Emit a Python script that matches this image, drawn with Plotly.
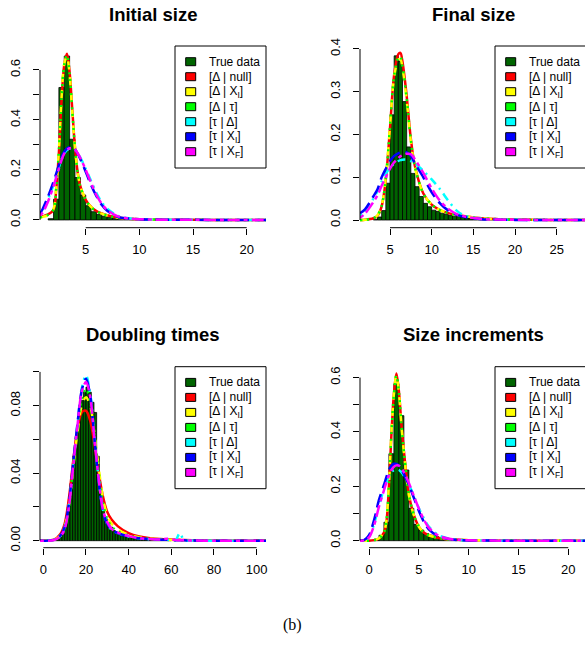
import numpy as np
import plotly.graph_objects as go

W, H = 585, 660

# ---------------- data ----------------
titles = ["Initial size", "Final size", "Doubling times", "Size increments"]
legend_labels = ["True data", "[Δ | null]", "[Δ | X<sub>I</sub>]", "[Δ | τ]",
                 "[τ | Δ]", "[τ | X<sub>I</sub>]", "[τ | X<sub>F</sub>]"]
legend_colors = ["#006400", "#FF0000", "#FFFF00", "#00FF00", "#00FFFF", "#0000FF", "#FF00FF"]
curve_names = ["red", "yellow", "green", "cyan", "blue", "magenta"]

# Panel 1: Initial size
p1_bin_start, p1_bin_w = 1.5, 0.5
p1_hist = [0.005, 0.083, 0.53, 0.656, 0.323, 0.17, 0.10, 0.057, 0.033, 0.022, 0.015,
           0.010, 0.007, 0.005, 0.004, 0.003, 0.002, 0.002, 0.0015, 0.001, 0.001, 0.0008,
           0.0006, 0.0005, 0.0004, 0.0003, 0.0003, 0.0002, 0.0002, 0.0002, 0.0001, 0.0001,
           0.0001, 0.0001, 0.0001, 0.0001, 0.0001, 0.0001, 0.0001]
p1_x = [0.74, 1.0, 1.5, 2.0, 2.25, 2.5, 2.75, 3.0, 3.25, 3.5, 3.75, 4.0, 4.25, 4.5, 5.0,
        5.5, 6.0, 6.5, 7.0, 8.0, 9.0, 10.0, 12.0, 15.0, 18.0, 21.8]
p1_red = [0.012, 0.015, 0.022, 0.04, 0.12, 0.27, 0.48, 0.62, 0.665, 0.59, 0.44, 0.29, 0.19,
          0.135, 0.08, 0.052, 0.036, 0.026, 0.019, 0.010, 0.005, 0.003, 0.001, 0.0005, 0.0002, 0.0001]
p1_yellow = [0.008, 0.012, 0.02, 0.045, 0.13, 0.28, 0.49, 0.625, 0.655, 0.58, 0.43, 0.285, 0.19,
             0.135, 0.082, 0.052, 0.035, 0.025, 0.018, 0.009, 0.005, 0.003, 0.001, 0.0005, 0.0002, 0.0001]
p1_green = [0.010, 0.013, 0.021, 0.042, 0.125, 0.275, 0.485, 0.622, 0.66, 0.585, 0.435, 0.288, 0.188,
            0.133, 0.08, 0.051, 0.035, 0.025, 0.018, 0.009, 0.005, 0.003, 0.001, 0.0005, 0.0002, 0.0001]
p1_cyan = [0.02, 0.038, 0.085, 0.14, 0.175, 0.21, 0.243, 0.266, 0.28, 0.286, 0.286, 0.28, 0.268,
           0.25, 0.205, 0.156, 0.108, 0.07, 0.045, 0.016, 0.007, 0.003, 0.001, 0.0004, 0.0002, 0.0001]
p1_blue = [0.025, 0.045, 0.095, 0.153, 0.185, 0.22, 0.252, 0.273, 0.286, 0.292, 0.292, 0.283, 0.265,
           0.243, 0.193, 0.14, 0.095, 0.06, 0.037, 0.012, 0.006, 0.003, 0.001, 0.0004, 0.0002, 0.0001]
p1_magenta = [0.018, 0.03, 0.075, 0.135, 0.17, 0.205, 0.24, 0.265, 0.28, 0.287, 0.288, 0.282, 0.267,
              0.248, 0.2, 0.148, 0.1, 0.064, 0.04, 0.014, 0.006, 0.003, 0.001, 0.0004, 0.0002, 0.0001]

# Panel 2: Final size
p2_bin_start, p2_bin_w = 3.0, 0.5
p2_hist = [0.002, 0.007, 0.022, 0.086, 0.246, 0.384, 0.372, 0.277, 0.171, 0.109, 0.078, 0.055,
           0.039, 0.031, 0.023, 0.020, 0.016, 0.013, 0.011, 0.009, 0.008, 0.006, 0.005, 0.004,
           0.004, 0.003, 0.003, 0.004, 0.002, 0.002, 0.001, 0.001, 0.001, 0.0008, 0.0006, 0.0005,
           0.0004, 0.0003, 0.0003, 0.0002, 0.0002, 0.0001]
p2_x = [1.4, 2.0, 3.0, 3.5, 4.0, 4.5, 5.0, 5.5, 6.0, 6.25, 6.5, 7.0, 7.5, 8.0, 9.0, 10.0, 11.0,
        12.0, 13.0, 14.0, 16.0, 18.0, 20.0, 24.0, 28.4]
p2_red = [0.0, 0.0005, 0.004, 0.01, 0.032, 0.095, 0.215, 0.34, 0.388, 0.391, 0.37, 0.29, 0.19,
          0.125, 0.062, 0.036, 0.023, 0.016, 0.012, 0.009, 0.004, 0.002, 0.001, 0.0003, 0.0001]
p2_yellow = [0.0, 0.0005, 0.004, 0.011, 0.034, 0.1, 0.22, 0.335, 0.375, 0.376, 0.355, 0.28, 0.185,
             0.122, 0.062, 0.036, 0.023, 0.016, 0.012, 0.009, 0.004, 0.002, 0.001, 0.0003, 0.0001]
p2_green = [0.0, 0.0005, 0.004, 0.011, 0.033, 0.098, 0.218, 0.338, 0.38, 0.382, 0.36, 0.284, 0.187,
            0.123, 0.062, 0.036, 0.023, 0.016, 0.012, 0.009, 0.004, 0.002, 0.001, 0.0003, 0.0001]
p2_cyan = [0.01, 0.02, 0.05, 0.068, 0.09, 0.108, 0.122, 0.132, 0.138, 0.14, 0.141, 0.141, 0.138,
           0.132, 0.115, 0.095, 0.072, 0.045, 0.022, 0.01, 0.003, 0.001, 0.0004, 0.0001, 0.0]
p2_blue = [0.016, 0.025, 0.055, 0.072, 0.1, 0.12, 0.138, 0.15, 0.156, 0.158, 0.16, 0.158, 0.15,
           0.132, 0.1, 0.065, 0.039, 0.022, 0.012, 0.007, 0.002, 0.0008, 0.0003, 0.0001, 0.0]
p2_magenta = [0.005, 0.015, 0.042, 0.058, 0.08, 0.1, 0.12, 0.135, 0.145, 0.149, 0.152, 0.155, 0.154,
              0.142, 0.11, 0.074, 0.045, 0.026, 0.014, 0.008, 0.0025, 0.001, 0.0004, 0.0001, 0.0]

# Panel 3: Doubling times
p3_bin_start, p3_bin_w = 0.0, 1.25
p3_hist = [0.0, 0.0, 0.0, 0.0003, 0.0005, 0.001, 0.002, 0.004, 0.010, 0.020, 0.034, 0.050,
           0.062, 0.074, 0.083, 0.088, 0.091, 0.088, 0.082, 0.076, 0.050, 0.030, 0.019, 0.013,
           0.010, 0.008, 0.006, 0.005, 0.004, 0.003, 0.0025, 0.002, 0.0018, 0.0015, 0.0012,
           0.001, 0.0008, 0.0007, 0.0006, 0.0005, 0.0004, 0.0003, 0.0003, 0.0002, 0.0002,
           0.0002, 0.0001, 0.0001]
p3_x = [-1.55, 0, 5, 8, 10, 12, 14, 16, 18, 20, 22, 24, 26, 28, 30, 32, 35, 40, 45, 50, 55,
        58, 62, 64, 66, 70, 80, 90, 104.4]
p3_red = [0, 0, 0.0006, 0.004, 0.01, 0.025, 0.047, 0.066, 0.076, 0.077, 0.071, 0.057, 0.04,
          0.026, 0.017, 0.0125, 0.0085, 0.0045, 0.0025, 0.0015, 0.001, 0.0008, 0.0006, 0.0005,
          0.0004, 0.0003, 0.0001, 0.0001, 0.0001]
p3_yellow = [0, 0, 0.0005, 0.003, 0.008, 0.021, 0.043, 0.064, 0.08, 0.085, 0.08, 0.063, 0.043,
             0.025, 0.015, 0.01, 0.0065, 0.0035, 0.002, 0.0012, 0.0008, 0.0005, 0.0003, 0.0002,
             0.0002, 0.0001, 0, 0, 0]
p3_green = [0, 0, 0.0005, 0.003, 0.008, 0.021, 0.044, 0.066, 0.084, 0.09, 0.083, 0.062, 0.04,
            0.022, 0.013, 0.0085, 0.0055, 0.003, 0.0017, 0.0011, 0.0007, 0.0005, 0.0003, 0.0002,
            0.0002, 0.0001, 0, 0, 0]
p3_cyan = [0, 0, 0.0005, 0.003, 0.008, 0.021, 0.045, 0.069, 0.09, 0.098, 0.087, 0.061, 0.036,
           0.018, 0.01, 0.0065, 0.0045, 0.0025, 0.0014, 0.0009, 0.0006, 0.0005, 0.0004, 0.0045,
           0.0003, 0.0001, 0, 0, 0]
p3_blue = [0, 0, 0.0005, 0.003, 0.008, 0.022, 0.046, 0.069, 0.089, 0.096, 0.086, 0.06, 0.035,
           0.017, 0.01, 0.0065, 0.0045, 0.0025, 0.0014, 0.0009, 0.0006, 0.0005, 0.0003, 0.0002,
           0.0002, 0.0001, 0, 0, 0]
p3_magenta = [0, 0, 0.0004, 0.0025, 0.007, 0.02, 0.044, 0.068, 0.088, 0.094, 0.085, 0.06, 0.036,
              0.018, 0.011, 0.007, 0.0048, 0.0027, 0.0015, 0.001, 0.0007, 0.0012, 0.0004, 0.0003,
              0.0002, 0.0001, 0, 0, 0]

# Panel 4: Size increments
p4_bin_start, p4_bin_w = 0.0, 0.5
p4_hist = [0.001, 0.005, 0.02, 0.068, 0.32, 0.577, 0.46, 0.26, 0.119, 0.06, 0.039, 0.026, 0.02,
           0.015, 0.011, 0.008, 0.006, 0.005, 0.004, 0.003, 0.002, 0.002, 0.0015, 0.001, 0.001,
           0.0008, 0.0006, 0.0005, 0.0004, 0.0003, 0.0003, 0.0002, 0.0002, 0.0002, 0.0001,
           0.0001, 0.0003, 0.0001, 0.0001, 0.0001]
p4_x = [-0.903, -0.5, 0.0, 0.5, 1.0, 1.5, 1.75, 2.0, 2.25, 2.5, 2.75, 3.0, 3.25, 3.5, 3.75, 4.0,
        4.5, 5.0, 5.5, 6.0, 7.0, 8.0, 9.0, 10.0, 12.0, 15.0, 18.0, 21.68]
p4_red = [0, 0, 0, 0.002, 0.008, 0.03, 0.07, 0.2, 0.39, 0.54, 0.615, 0.55, 0.43, 0.33, 0.245,
          0.17, 0.095, 0.052, 0.03, 0.02, 0.01, 0.005, 0.003, 0.002, 0.001, 0.0003, 0.0001, 0]
p4_yellow = [0, 0, 0, 0.002, 0.009, 0.032, 0.075, 0.21, 0.395, 0.54, 0.61, 0.545, 0.425, 0.325,
             0.24, 0.168, 0.094, 0.052, 0.03, 0.02, 0.01, 0.005, 0.003, 0.002, 0.001, 0.0003, 0.0001, 0]
p4_green = [0, 0, 0, 0.002, 0.008, 0.031, 0.072, 0.205, 0.392, 0.538, 0.608, 0.548, 0.428, 0.328,
            0.243, 0.169, 0.095, 0.052, 0.03, 0.02, 0.01, 0.005, 0.003, 0.002, 0.001, 0.0003, 0.0001, 0]
p4_cyan = [0, 0.001, 0.015, 0.06, 0.13, 0.19, 0.215, 0.238, 0.252, 0.26, 0.262, 0.26, 0.252, 0.24,
           0.225, 0.207, 0.165, 0.12, 0.082, 0.052, 0.02, 0.008, 0.003, 0.0012, 0.0004, 0.0001, 0, 0]
p4_blue = [0, 0.002, 0.02, 0.075, 0.15, 0.205, 0.235, 0.26, 0.276, 0.283, 0.282, 0.275, 0.262,
           0.245, 0.225, 0.205, 0.158, 0.11, 0.07, 0.042, 0.016, 0.006, 0.0025, 0.001, 0.0004, 0.0001, 0, 0]
p4_magenta = [0, 0.001, 0.012, 0.055, 0.125, 0.185, 0.215, 0.24, 0.26, 0.272, 0.277, 0.276, 0.268,
              0.252, 0.233, 0.212, 0.165, 0.118, 0.078, 0.048, 0.018, 0.007, 0.003, 0.0012, 0.0004,
              0.0001, 0, 0]

# ticks (all tick marks, and the labelled subset)
p1_xticks = [5, 10, 15, 20]
p1_yticks = [0.0, 0.1, 0.2, 0.3, 0.4, 0.5, 0.6]
p1_ylabelled = [0.0, 0.2, 0.4, 0.6]
p2_xticks = [5, 10, 15, 20, 25]
p2_yticks = [0.0, 0.1, 0.2, 0.3, 0.4]
p2_ylabelled = [0.0, 0.1, 0.2, 0.3, 0.4]
p3_xticks = [0, 20, 40, 60, 80, 100]
p3_yticks = [0.0, 0.02, 0.04, 0.06, 0.08, 0.10]
p3_ylabelled = [0.0, 0.04, 0.08]
p4_xticks = [0, 5, 10, 15, 20]
p4_yticks = [0.0, 0.1, 0.2, 0.3, 0.4, 0.5, 0.6]
p4_ylabelled = [0.0, 0.2, 0.4, 0.6]
y_decimals = [1, 1, 2, 1]

caption = "(b)"

# ---------------- layout geometry (screen pixels) ----------------
panels = [
    dict(title=titles[0], left=40, top=46, bottom=227.7, xr=[0.74, 21.8], yr=[-0.031, 0.696],
         bs=p1_bin_start, bw=p1_bin_w, hist=p1_hist, x=p1_x,
         curves=[p1_red, p1_yellow, p1_green, p1_cyan, p1_blue, p1_magenta],
         xt=p1_xticks, yt=p1_yticks, yl=p1_ylabelled),
    dict(title=titles[1], left=360, top=46, bottom=227.7, xr=[1.4, 28.4], yr=[-0.018, 0.407],
         bs=p2_bin_start, bw=p2_bin_w, hist=p2_hist, x=p2_x,
         curves=[p2_red, p2_yellow, p2_green, p2_cyan, p2_blue, p2_magenta],
         xt=p2_xticks, yt=p2_yticks, yl=p2_ylabelled),
    dict(title=titles[2], left=40, top=366.7, bottom=547.7, xr=[-1.55, 104.4], yr=[-0.00415, 0.1031],
         bs=p3_bin_start, bw=p3_bin_w, hist=p3_hist, x=p3_x,
         curves=[p3_red, p3_yellow, p3_green, p3_cyan, p3_blue, p3_magenta],
         xt=p3_xticks, yt=p3_yticks, yl=p3_ylabelled),
    dict(title=titles[3], left=360, top=366.7, bottom=547.7, xr=[-0.903, 21.68], yr=[-0.0258, 0.64],
         bs=p4_bin_start, bw=p4_bin_w, hist=p4_hist, x=p4_x,
         curves=[p4_red, p4_yellow, p4_green, p4_cyan, p4_blue, p4_magenta],
         xt=p4_xticks, yt=p4_yticks, yl=p4_ylabelled),
]
REGION_W = 226
OFF = 0  # body margin removed by post_script below

dashes = ["solid", "8px,8px", "2px,5px", "2px,5px,8px,5px", "14px,6px", "4px,4px,12px,4px"]
curve_colors = legend_colors[1:]

def px(v):
    return (v - OFF) / W

def py(v):
    return 1 - (v - OFF) / H

fig = go.Figure()
shapes = []
annotations = []
layout_axes = {}

for i, p in enumerate(panels):
    k = "" if i == 0 else str(i + 1)
    xa, ya = "x" + k, "y" + k
    right = p["left"] + REGION_W
    xdom = [px(p["left"]), min(1.0, px(right))]
    ydom = [py(p["bottom"]), py(p["top"])]

    hist = np.array(p["hist"])
    centers = p["bs"] + p["bw"] * (np.arange(len(hist)) + 0.5)
    fig.add_trace(go.Bar(x=centers, y=hist, width=p["bw"], xaxis=xa, yaxis=ya,
                         marker=dict(color="#006400", line=dict(color="black", width=0.8)),
                         hoverinfo="skip"))
    for c, (ys, col, dsh) in enumerate(zip(p["curves"], curve_colors, dashes)):
        fig.add_trace(go.Scatter(x=p["x"], y=ys, mode="lines", xaxis=xa, yaxis=ya,
                                 line=dict(color=col, width=2.5, dash=dsh, shape="spline",
                                           smoothing=0.9),
                                 name=curve_names[c], hoverinfo="skip"))

    axis_common = dict(showgrid=False, zeroline=False, showline=False, ticks="outside",
                       ticklen=6, tickwidth=1, tickcolor="black", automargin=False,
                       tickfont=dict(size=13, color="black"), fixedrange=True)
    layout_axes["xaxis" + k] = dict(axis_common, domain=xdom, range=p["xr"], anchor=ya,
                                    tickvals=p["xt"], ticktext=[str(t) for t in p["xt"]],
                                    ticklabelstandoff=4)
    fmt = "{:.%df}" % y_decimals[i]
    layout_axes["yaxis" + k] = dict(axis_common, domain=ydom, range=p["yr"], anchor=xa,
                                    tickvals=p["yl"], ticktext=[fmt.format(t) for t in p["yl"]],
                                    tickangle=-90, ticklabelstandoff=8,
                                    minor=dict(tickvals=p["yt"], ticks="outside", ticklen=6,
                                               tickwidth=1, tickcolor="black", showgrid=False))

    # R-style axis lines (from first to last tick)
    shapes.append(dict(type="line", xref=xa, yref=ya + " domain", x0=p["xt"][0], x1=p["xt"][-1],
                       y0=0, y1=0, line=dict(color="black", width=1)))
    shapes.append(dict(type="line", xref=xa + " domain", yref=ya, x0=0, x1=0,
                       y0=p["yt"][0], y1=p["yt"][-1], line=dict(color="black", width=1)))

    # title
    annotations.append(dict(text="<b>" + p["title"] + "</b>", x=px((p["left"] + right) / 2),
                            y=py(p["top"] - 32), xref="paper", yref="paper", showarrow=False,
                            xanchor="center", yanchor="middle",
                            font=dict(size=18.5, color="black")))

    # legend box (topright of region)
    bl, bt = right - 91, p["top"]
    shapes.append(dict(type="rect", xref="paper", yref="paper", x0=px(bl), x1=px(right),
                       y0=py(bt + 122), y1=py(bt), line=dict(color="black", width=1),
                       fillcolor="white", layer="above"))
    for j, (lab, col) in enumerate(zip(legend_labels, legend_colors)):
        ry = bt + 15.7 + 15 * j
        shapes.append(dict(type="rect", xref="paper", yref="paper",
                           x0=px(bl + 10.7), x1=px(bl + 20.7), y0=py(ry + 4), y1=py(ry - 4),
                           line=dict(color="black", width=1), fillcolor=col, layer="above"))
        annotations.append(dict(text=lab, x=px(bl + 32.3), y=py(ry), xref="paper", yref="paper",
                                showarrow=False, xanchor="left", yanchor="middle",
                                font=dict(size=12, color="black")))

annotations.append(dict(text=caption, x=px(292), y=py(625), xref="paper", yref="paper",
                        showarrow=False, xanchor="center", yanchor="middle",
                        font=dict(size=16, color="black", family="Liberation Serif, DejaVu Serif")))

fig.update_layout(template="none", width=W, height=H, margin=dict(l=0, r=0, t=0, b=0, pad=0),
                  paper_bgcolor="white", plot_bgcolor="white", showlegend=False,
                  barmode="overlay", bargap=0, hovermode=False,
                  font=dict(family="Liberation Sans, Arial, sans-serif", color="black"),
                  shapes=shapes, annotations=annotations, **layout_axes)

fig.write_html("out.html", config={"displayModeBar": False, "staticPlot": True},
               post_script="document.body.style.margin='0';document.body.style.overflow='hidden';")
